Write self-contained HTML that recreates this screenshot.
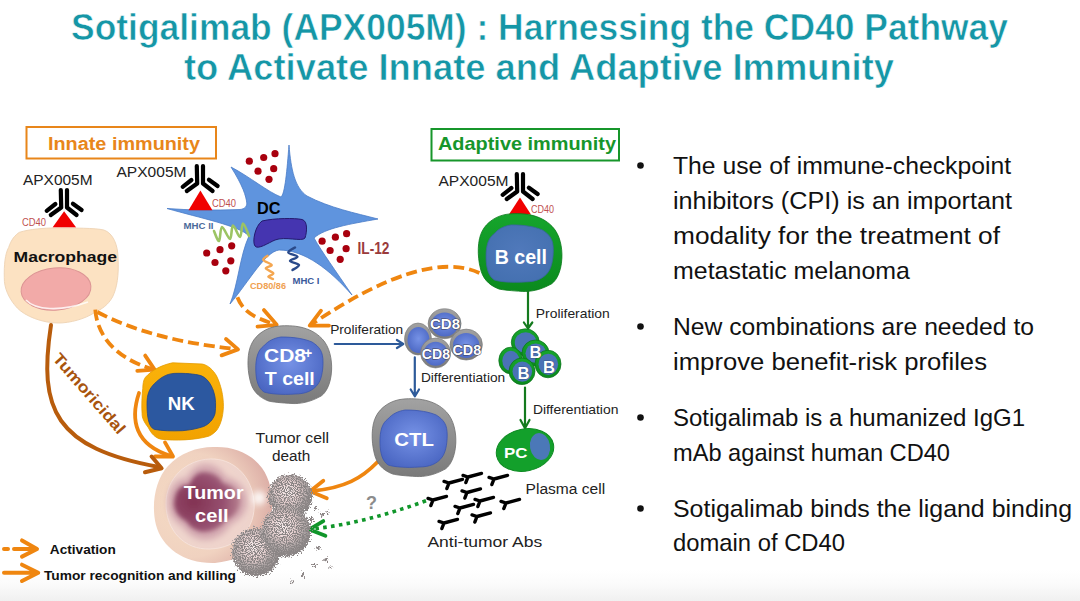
<!DOCTYPE html>
<html><head><meta charset="utf-8">
<style>
html,body{margin:0;padding:0;background:#fff;}
body{width:1080px;height:601px;overflow:hidden;position:relative;}
svg{position:absolute;left:0;top:0;}
text{font-family:"Liberation Sans",sans-serif;}
</style></head><body>
<svg width="1080" height="601" viewBox="0 0 1080 601">
<defs>
  <linearGradient id="botg" x1="0" y1="0" x2="0" y2="1">
    <stop offset="0" stop-color="#ffffff"/>
    <stop offset="0.45" stop-color="#fbfbfb"/>
    <stop offset="1" stop-color="#f0f0f0"/>
  </linearGradient>
  <radialGradient id="blueT" cx="0.5" cy="0.45" r="0.6">
    <stop offset="0" stop-color="#7692e6"/>
    <stop offset="1" stop-color="#4a66c2"/>
  </radialGradient>
  <radialGradient id="tumO" cx="0.3" cy="0.5" r="0.75">
    <stop offset="0" stop-color="#f6dcc4"/>
    <stop offset="0.6" stop-color="#f0d2c0"/>
    <stop offset="1" stop-color="#d9a8a2"/>
  </radialGradient>
  <radialGradient id="tumN" cx="0.3" cy="0.5" r="0.75">
    <stop offset="0" stop-color="#823252"/>
    <stop offset="0.6" stop-color="#965070"/>
    <stop offset="1" stop-color="#bc8894"/>
  </radialGradient>
  <radialGradient id="deb" cx="0.45" cy="0.4" r="0.55">
    <stop offset="0" stop-color="#faf0f0"/>
    <stop offset="0.45" stop-color="#e6d0d0"/>
    <stop offset="0.8" stop-color="#aaa2a2"/>
    <stop offset="1" stop-color="#8e8888"/>
  </radialGradient>
  <filter id="blur2" x="-30%" y="-30%" width="160%" height="160%"><feGaussianBlur stdDeviation="2.2"/></filter>
  <filter id="blur3" x="-100%" y="-100%" width="300%" height="300%"><feGaussianBlur stdDeviation="3"/></filter>
  <filter id="speck" x="-30%" y="-30%" width="160%" height="160%">
    <feTurbulence type="fractalNoise" baseFrequency="0.7" numOctaves="2" seed="7" result="n"/>
    <feDisplacementMap in="SourceGraphic" in2="n" scale="9" xChannelSelector="R" yChannelSelector="G" result="d"/>
    <feTurbulence type="fractalNoise" baseFrequency="0.9" numOctaves="1" seed="3" result="n2"/>
    <feColorMatrix in="n2" type="matrix" values="0 0 0 0 0.25  0 0 0 0 0.23  0 0 0 0 0.23  0 0 0 7 -2.9" result="sp"/>
    <feComposite in="sp" in2="d" operator="in" result="sp2"/>
    <feMerge><feMergeNode in="d"/><feMergeNode in="sp2"/></feMerge>
  </filter>
  <path id="cellO" d="M279.5,326 C292,325 310,326 322,338.7 C330,347 332,360 331.6,370 C331,385 325,395 319,397.1 C310,402 300,404 292,403.5 C282,403 272,402 268.4,401 C258,397 252,390 250,380 C247,368 247,352 252,343 C256,335 266,327 279.5,326 Z"/>
  <path id="cellI" d="M281,337 C295,337 305,339 312,342 C320,347 323,352 323,362 C323,372 321,380 318,384 C313,391 305,394 295,394 C282,395 270,394 264,392 C258,388 256,380 255.8,370 C255.5,358 258,350 263.7,346 C268,341 274,338 281,337 Z"/>
  <linearGradient id="grayR" x1="0" y1="0" x2="0" y2="1">
    <stop offset="0" stop-color="#a2a2a2"/><stop offset="1" stop-color="#7a7a7a"/>
  </linearGradient>
  <linearGradient id="greenR" x1="0" y1="0" x2="0" y2="1">
    <stop offset="0" stop-color="#16a52c"/><stop offset="1" stop-color="#0b8a1e"/>
  </linearGradient>
  <linearGradient id="amberR" x1="0" y1="0" x2="0" y2="1">
    <stop offset="0" stop-color="#fab20a"/><stop offset="1" stop-color="#f2a200"/>
  </linearGradient>
  <radialGradient id="blueB" cx="0.5" cy="0.45" r="0.6">
    <stop offset="0" stop-color="#5079bb"/><stop offset="1" stop-color="#4470b0"/>
  </radialGradient>
  <g id="ab">
    <path d="M-3.2,0 L-2.8,17.5 L-13.2,25 M3,0 L3,17.5 L12.6,25 M-8.6,14 L-17.3,20.8 M8.9,13.7 L17.6,20" stroke="#000" stroke-width="4.2" stroke-linecap="round" stroke-linejoin="round" fill="none"/>
  </g>
  <g id="sab">
    <path d="M0,0 L13.5,-3.6 M0,0 L-5,-1.6 M0,0 L-2.2,5.6" stroke="#000" stroke-width="3.4" stroke-linecap="round" fill="none"/>
  </g>
</defs>

<!-- bottom gradient -->
<rect x="0" y="570" width="1080" height="31" fill="url(#botg)"/>

<!-- TITLE -->
<g fill="#1596a6" font-weight="bold" font-size="37" stroke="#fff" stroke-width="0.6">
  <text x="71" y="40" textLength="937" lengthAdjust="spacingAndGlyphs">Sotigalimab (APX005M) : Harnessing the CD40 Pathway</text>
  <text x="184" y="79.5" textLength="710" lengthAdjust="spacingAndGlyphs">to Activate Innate and Adaptive Immunity</text>
</g>

<!-- BULLETS -->
<g fill="#111" font-size="24.6">
  <circle cx="640.5" cy="165.5" r="3.3"/>
  <circle cx="640.5" cy="326.5" r="3.3"/>
  <circle cx="640.5" cy="417.5" r="3.3"/>
  <circle cx="640.5" cy="508.5" r="3.3"/>
  <text x="673" y="174.2" textLength="338" lengthAdjust="spacingAndGlyphs">The use of immune-checkpoint</text>
  <text x="673" y="209.2" textLength="339" lengthAdjust="spacingAndGlyphs">inhibitors (CPI) is an important</text>
  <text x="673" y="244.2" textLength="327" lengthAdjust="spacingAndGlyphs">modality for the treatment of</text>
  <text x="673" y="278.5" textLength="237" lengthAdjust="spacingAndGlyphs">metastatic melanoma</text>
  <text x="673" y="335" textLength="361" lengthAdjust="spacingAndGlyphs">New combinations are needed to</text>
  <text x="673" y="370" textLength="314" lengthAdjust="spacingAndGlyphs">improve benefit-risk profiles</text>
  <text x="673" y="425.7" textLength="352" lengthAdjust="spacingAndGlyphs">Sotigalimab is a humanized IgG1</text>
  <text x="673" y="460.5" textLength="277" lengthAdjust="spacingAndGlyphs">mAb against human CD40</text>
  <text x="673" y="517" textLength="399" lengthAdjust="spacingAndGlyphs">Sotigalimab binds the ligand binding</text>
  <text x="673" y="551" textLength="172" lengthAdjust="spacingAndGlyphs">domain of CD40</text>
</g>

<!-- DIAGRAM -->
<g id="diagram">
  <!-- boxes -->
  <rect x="26.5" y="127" width="189.5" height="31.5" fill="none" stroke="#e8861a" stroke-width="2"/>
  <text x="48" y="149.5" font-size="18" font-weight="bold" fill="#e8861a" textLength="152" lengthAdjust="spacingAndGlyphs">Innate immunity</text>
  <rect x="431.5" y="129" width="187.5" height="31.5" fill="none" stroke="#17962b" stroke-width="2"/>
  <text x="438" y="149.6" font-size="19" font-weight="bold" fill="#17962b" textLength="178" lengthAdjust="spacingAndGlyphs">Adaptive immunity</text>

  <!-- APX labels -->
  <g font-size="15" fill="#222">
    <text x="23" y="185" textLength="69.5" lengthAdjust="spacingAndGlyphs">APX005M</text>
    <text x="116.5" y="176.6" textLength="70" lengthAdjust="spacingAndGlyphs">APX005M</text>
    <text x="438.5" y="186.3" textLength="70" lengthAdjust="spacingAndGlyphs">APX005M</text>
  </g>

  <!-- DC star -->
  <path d="M167,208.5 Q200,211 240,209.5 C245,209 247,206 246.8,203 C246,196 243,186 231,167 C250,177 268,192 281,197 C285,194 287,170 289,145 C291,170 295,188 307,196 C330,208 355,213 378,219 C350,224 325,228 314,238 C322,252 335,270 352,295 C330,270 305,250 279,250 C265,252 250,280 230,304 C238,285 240,255 249,236 C240,226 200,218 167,208.5 Z" fill="#5f94de" stroke="#4a7cc8" stroke-width="0.8"/>
  <path d="M262,221 C275,218 295,218 302,219.5 C308,221 307,232 305,238 C302,242 285,236 275,240 C268,243 258,250 255,246 C252,242 255,226 262,221 Z" fill="#4535b0" stroke="#241a6e" stroke-width="1"/>
  <text x="257" y="213.5" font-size="16" font-weight="bold" fill="#000" textLength="23.5" lengthAdjust="spacingAndGlyphs">DC</text>
  <!-- squiggles -->
  <path d="M214,231 C214.8,232.7 217.7,241.7 219,241 C220.3,240.3 220.2,227.3 222,227 C223.8,226.7 228.2,239.2 230,239 C231.8,238.8 231.3,225.8 233,225.5 C234.7,225.2 238.3,237.3 240,237 C241.7,236.7 241.5,223.7 243,223.5 C244.5,223.3 248.0,233.9 249,236" fill="none" stroke="#9cc464" stroke-width="2.6" stroke-linejoin="round" stroke-linecap="round"/>
  <path d="M267.5,255.8 C266.8,256.5 262.6,258.5 263.3,260 C264.0,261.5 271.3,263.6 271.7,265 C272.1,266.4 265.5,266.9 265.8,268.3 C266.1,269.7 272.9,271.9 273.3,273.3 C273.7,274.7 268.4,275.8 268.3,276.7 C268.2,277.6 272.2,278.6 273,279" fill="none" stroke="#f4a650" stroke-width="2.4" stroke-linejoin="round" stroke-linecap="round"/>
  <path d="M295,247.5 C293.9,248.3 287.9,251.0 288.3,252.5 C288.7,254.0 297.2,255.3 297.5,256.7 C297.8,258.1 289.8,259.4 290,260.8 C290.2,262.2 298.6,263.5 299,265 C299.4,266.5 293.6,269.2 292.5,270" fill="none" stroke="#2a4a8a" stroke-width="2.4" stroke-linejoin="round" stroke-linecap="round"/>
  <g font-weight="bold">
    <text x="183.5" y="229.4" font-size="9.5" fill="#4a6a9a" textLength="30" lengthAdjust="spacingAndGlyphs">MHC II</text>
    <text x="250" y="288.7" font-size="8.5" fill="#f0a050" textLength="36" lengthAdjust="spacingAndGlyphs">CD80/86</text>
    <text x="292.5" y="284.2" font-size="9" fill="#3a5a9a" textLength="27" lengthAdjust="spacingAndGlyphs">MHC I</text>
    <text x="357.5" y="253.8" font-size="16" fill="#9b3b3b" textLength="32" lengthAdjust="spacingAndGlyphs">IL-12</text>
  </g>
  <!-- dots -->
  <g fill="#a8000e">
    <circle cx="249.3" cy="161.2" r="3.6"/><circle cx="263.7" cy="157.5" r="3.6"/><circle cx="275" cy="153.7" r="3.6"/>
    <circle cx="258" cy="171.2" r="3.6"/><circle cx="273.7" cy="168.7" r="3.6"/><circle cx="269" cy="179.3" r="3.6"/>
    <circle cx="206.7" cy="253" r="3.6"/><circle cx="220" cy="249.7" r="3.6"/><circle cx="231.7" cy="245.8" r="3.6"/>
    <circle cx="215" cy="262.5" r="3.6"/><circle cx="230.8" cy="260.8" r="3.6"/><circle cx="225.8" cy="270.8" r="3.6"/>
    <circle cx="322.1" cy="241.2" r="3.6"/><circle cx="335.4" cy="237.2" r="3.6"/><circle cx="346.6" cy="233.7" r="3.6"/>
    <circle cx="330.1" cy="250.5" r="3.6"/><circle cx="346.1" cy="248.7" r="3.6"/><circle cx="340.2" cy="259.3" r="3.6"/>
  </g>

  <!-- antibodies + CD40 -->
  <use href="#ab" x="64" y="190"/>
  <use href="#ab" x="200" y="166"/>
  <use href="#ab" x="520" y="174"/>
  <g fill="#f00000">
    <polygon points="64.1,211.2 52.5,227.6 76.2,227.6"/>
    <polygon points="200.4,190.5 188.5,210.2 212.4,210.2"/>
    <polygon points="520,197.4 508.9,214.6 531,214.6"/>
  </g>
  <g font-size="10" fill="#c05050">
    <text x="22" y="226" textLength="24" lengthAdjust="spacingAndGlyphs">CD40</text>
    <text x="212" y="206.5" textLength="24" lengthAdjust="spacingAndGlyphs">CD40</text>
    <text x="531" y="213" textLength="23" lengthAdjust="spacingAndGlyphs">CD40</text>
  </g>

  <!-- Macrophage -->
  <path d="M19.5,232.3 C30,229 45,228 54,228 C75,228 95,228 103.8,230 C113,233 118,245 118,258 C119,275 117,288 112.5,297 C108,305 102,309 95,312.3 C85,319 70,323 58.4,323 C42,323 25,316 17.3,308 C9,299 4,288 4.3,277.7 C4,265 5,254 8.7,247.4 C11,240 15,235 19.5,232.3 Z" fill="#fce2c2" stroke="#f0d6b8" stroke-width="1"/>
  <ellipse cx="56" cy="289" rx="35" ry="21" transform="rotate(-5 56 289)" fill="#f2aaa8" stroke="#dc9494" stroke-width="1"/>
  <path d="M26,300 C35,310 60,312 88,302" fill="none" stroke="#fff" stroke-width="1.6" opacity="0.8"/>
  <text x="13.5" y="261.5" font-size="15" font-weight="bold" fill="#111" textLength="103.5" lengthAdjust="spacingAndGlyphs">Macrophage</text>

  <!-- ARROWS (orange) -->
  <g fill="none" stroke="#ef8610" stroke-width="3.8" stroke-linecap="butt">
    <path d="M95.3,309.6 C97,335 115,358 152,369" stroke-dasharray="11,5"/>
    <path d="M97.3,312 Q150,340 236,349" stroke-dasharray="11,5"/>
    <path d="M237.4,297.3 C243,312 255,318 274,324" stroke-dasharray="11,5"/>
    <path d="M479.4,272.9 Q425,248 312,324" stroke-dasharray="11,5"/>
  </g>
  <g fill="none" stroke="#ef8610" stroke-width="3.8" stroke-linecap="round" stroke-linejoin="round">
    <path d="M145.2,355.6 L154.6,369.6 L137.3,370.9"/>
    <path d="M226,339 L238,349.4 L221.6,355.4"/>
    <path d="M263.9,310.1 L276.7,324.8 L257.5,326.6"/>
    <path d="M321,310.7 L309.7,325.6 L329,325.6"/>
    <path d="M139,393 C130,420 135,445 171,456"/>
    <path d="M165,442.4 L173,456.5 L155,456.5"/>
    <path d="M377.5,462 C362,478 345,488 312,491"/>
    <path d="M323.3,480.8 L310.1,491.3 L326.8,498.2"/>
  </g>
  <!-- tumoricidal -->
  <g fill="none" stroke="#b85c0c" stroke-width="4" stroke-linecap="round" stroke-linejoin="round">
    <path d="M51,325 C38,410 55,448 159,467"/>
    <path d="M151.6,456.5 L161.6,468.2 L145,472.3"/>
  </g>
  <text transform="translate(52,359) rotate(49)" font-size="16" font-weight="bold" fill="#a8540e" textLength="101" lengthAdjust="spacingAndGlyphs">Tumoricidal</text>

  <!-- NK -->
  <path d="M172.5,362.8 L202,364 C208,365 213,370 216.4,375.6 C221,385 223.5,396 223.4,406.7 C223,418 220,426 216.4,430.7 C213,434 210,436 207.9,436.4 C195,440 175,441 161.2,439.2 C155,438 151,433 148.5,427.9 C144,422 142,418 142.1,413.7 C141.5,405 142,395 142.8,388.3 C143,382 144,379 145.7,377 C152,370 162,365 172.5,362.8 Z" fill="url(#amberR)" stroke="#e39a00" stroke-width="0.8"/>
  <path d="M154.1,384 C160,378 166,374 174,373.4 C185,373 195,374 200.8,375.6 C207,378 211,384 213.5,391.1 C216,398 216,407 215,413.7 C213,420 209,424 203.6,426.5 C196,429 190,430 182.4,430.7 C172,431 162,431 154.1,429.3 C149,427 147,418 147,403.8 C147,395 149,389 154.1,384 Z" fill="#2c58a0" stroke="#1f4585" stroke-width="0.8"/>
  <text x="167.7" y="410.1" font-size="19" font-weight="bold" fill="#fff" textLength="27" lengthAdjust="spacingAndGlyphs">NK</text>

  <!-- CD8 T cell -->
  <use href="#cellO" fill="url(#grayR)" stroke="#6e6e6e" stroke-width="0.8"/>
  <use href="#cellI" fill="url(#blueT)" stroke="#3a55b0" stroke-width="0.8"/>
  <g font-weight="bold" fill="#fff" font-size="19">
    <text x="264" y="362" textLength="42" lengthAdjust="spacingAndGlyphs">CD8</text>
    <text x="304" y="358" font-size="14">+</text>
    <text x="264.8" y="385" textLength="50" lengthAdjust="spacingAndGlyphs">T cell</text>
  </g>

  <!-- blue arrows -->
  <g fill="none" stroke="#2d5a9a" stroke-width="2.2" stroke-linecap="round" stroke-linejoin="round">
    <path d="M334.8,344 L402.5,344 M396.9,340 L403.3,344 L396.9,348"/>
    <path d="M414.8,357.4 L414.8,396 M410.7,389.5 L414.8,396.3 L419,389.5"/>
  </g>
  <g font-size="13" fill="#222">
    <text x="330.2" y="333.7" textLength="73" lengthAdjust="spacingAndGlyphs">Proliferation</text>
    <text x="420.9" y="382.4" textLength="84.3" lengthAdjust="spacingAndGlyphs">Differentiation</text>
    <text x="535.8" y="317.5" textLength="74" lengthAdjust="spacingAndGlyphs">Proliferation</text>
    <text x="532.9" y="414" textLength="85.5" lengthAdjust="spacingAndGlyphs">Differentiation</text>
  </g>

  <!-- CD8 cluster -->
  <g stroke="#777" stroke-width="0.6">
    <ellipse cx="418" cy="339" rx="13.5" ry="16" fill="url(#grayR)"/><ellipse cx="418.5" cy="340" rx="11" ry="13" fill="url(#blueT)" stroke="none"/>
    <ellipse cx="444.6" cy="323.7" rx="16.5" ry="15" fill="url(#grayR)"/><ellipse cx="444.6" cy="324.5" rx="13.5" ry="12" fill="url(#blueT)" stroke="none"/>
    <ellipse cx="466.2" cy="344.6" rx="16.2" ry="15.5" fill="url(#grayR)"/><ellipse cx="466.2" cy="345.4" rx="13.2" ry="12.5" fill="url(#blueT)" stroke="none"/>
    <ellipse cx="435.6" cy="353" rx="15" ry="15" fill="url(#grayR)"/><ellipse cx="435.6" cy="353.8" rx="12" ry="12" fill="url(#blueT)" stroke="none"/>
  </g>
  <g font-weight="bold" fill="#fff" font-size="14.5" stroke="#3a3a50" stroke-width="1" paint-order="stroke">
    <text x="430" y="329.3" textLength="30" lengthAdjust="spacingAndGlyphs">CD8</text>
    <text x="421.8" y="358.7" textLength="28.2" lengthAdjust="spacingAndGlyphs">CD8</text>
    <text x="452.4" y="355" textLength="28.8" lengthAdjust="spacingAndGlyphs">CD8</text>
  </g>

  <!-- CTL -->
  <g transform="translate(124.2,73)">
    <use href="#cellO" fill="url(#grayR)" stroke="#6e6e6e" stroke-width="0.8"/>
    <use href="#cellI" fill="url(#blueT)" stroke="#3a55b0" stroke-width="0.8"/>
  </g>
  <text x="394.3" y="446" font-size="19" font-weight="bold" fill="#fff" textLength="39.6" lengthAdjust="spacingAndGlyphs">CTL</text>

  <!-- B cell -->
  <g transform="translate(230.3,-112.1)">
    <use href="#cellO" fill="url(#greenR)" stroke="#0a7a1a" stroke-width="0.8"/>
    <use href="#cellI" fill="url(#blueB)" stroke="#3a64a0" stroke-width="0.8"/>
  </g>
  <text x="494.7" y="263.9" font-size="19.5" font-weight="bold" fill="#fff" textLength="52.3" lengthAdjust="spacingAndGlyphs">B cell</text>

  <!-- green arrows -->
  <g fill="none" stroke="#147a1e" stroke-width="2.2" stroke-linecap="round" stroke-linejoin="round">
    <path d="M528,291.6 L528,328 M523.9,322.5 L528,328.5 L532.3,322.5"/>
    <path d="M525,387.5 L525,428 M520.5,420 L525,428.2 L529.5,420"/>
  </g>

  <!-- B cluster -->
  <g stroke="#0a7018" stroke-width="0.7">
    <ellipse cx="525.3" cy="342.3" rx="14" ry="13.5" fill="url(#greenR)"/><ellipse cx="525.5999999999999" cy="342.6" rx="10.8" ry="10.3" fill="#4a72b6" stroke="none"/>
    <ellipse cx="510.6" cy="360.5" rx="11.8" ry="13.3" fill="url(#greenR)"/><ellipse cx="510.90000000000003" cy="360.8" rx="8.600000000000001" ry="10.100000000000001" fill="#4a72b6" stroke="none"/>
    <ellipse cx="535.5" cy="353" rx="13.5" ry="13" fill="url(#greenR)"/><ellipse cx="535.8" cy="353.3" rx="10.3" ry="9.8" fill="#4a72b6" stroke="none"/>
    <ellipse cx="548" cy="364" rx="13" ry="13.8" fill="url(#greenR)"/><ellipse cx="548.3" cy="364.3" rx="9.8" ry="10.600000000000001" fill="#4a72b6" stroke="none"/>
    <ellipse cx="522" cy="371.3" rx="13" ry="13.3" fill="url(#greenR)"/><ellipse cx="522.3" cy="371.6" rx="9.8" ry="10.100000000000001" fill="#4a72b6" stroke="none"/>
  </g>
  <g font-weight="bold" fill="#fff" font-size="17" stroke="#2a3a60" stroke-width="0.6" paint-order="stroke">
    <text x="529.5" y="357.5" textLength="12" lengthAdjust="spacingAndGlyphs">B</text>
    <text x="543" y="372.6" textLength="12" lengthAdjust="spacingAndGlyphs">B</text>
    <text x="517.6" y="379.1" textLength="12" lengthAdjust="spacingAndGlyphs">B</text>
  </g>

  <!-- PC -->
  <ellipse cx="525" cy="450" rx="29" ry="21" transform="rotate(-12 525 450)" fill="#13a02b" stroke="#0e8a22" stroke-width="1"/>
  <ellipse cx="540" cy="446.5" rx="10" ry="13.5" transform="rotate(-10 540 446.5)" fill="#4b78b8"/>
  <text x="504" y="458" font-size="15" font-weight="bold" fill="#fff" textLength="23.4" lengthAdjust="spacingAndGlyphs">PC</text>

  <!-- small antibodies -->
  <use href="#sab" x="449" y="483"/><use href="#sab" x="468" y="477"/><use href="#sab" x="494" y="479"/>
  <use href="#sab" x="467" y="492.5"/><use href="#sab" x="433" y="500"/><use href="#sab" x="480" y="501"/>
  <use href="#sab" x="506" y="503"/><use href="#sab" x="460" y="508"/><use href="#sab" x="477" y="516.5"/>
  <use href="#sab" x="444" y="523"/>
  <g font-size="14" fill="#222">
    <text x="525.6" y="494.3" textLength="79.6" lengthAdjust="spacingAndGlyphs">Plasma  cell</text>
    <text x="427.4" y="546.7" textLength="114.8" lengthAdjust="spacingAndGlyphs">Anti-tumor Abs</text>
    <text x="255.6" y="443.1" textLength="73.4" lengthAdjust="spacingAndGlyphs">Tumor  cell</text>
    <text x="272" y="461" textLength="38.4" lengthAdjust="spacingAndGlyphs">death</text>
  </g>
  <text x="366" y="508.6" font-size="18" font-weight="bold" fill="#8c8c8c" textLength="11" lengthAdjust="spacingAndGlyphs">?</text>

  <!-- green dotted -->
  <path d="M426,500.8 Q365,523 314,528.8" fill="none" stroke="#10962a" stroke-width="3.6" stroke-dasharray="3.6,4.3"/>
  <path d="M323.3,521.1 L309.4,529.4 L325.4,535.7" fill="none" stroke="#10962a" stroke-width="3.8" stroke-linecap="round" stroke-linejoin="round"/>

  <!-- Tumor cell -->
  <path d="M213,447 C232,446 250,452 262,468 C272,482 273,500 272,512 C270,535 252,560 215,563 C185,564 162,548 156,525 C151,505 155,480 168,466 C180,453 197,447 213,447 Z" fill="url(#tumO)"/>
  <path d="M210,459 C232,458 252,475 254,502 C256,528 238,548 210,549 C184,550 166,530 166,504 C166,478 186,460 210,459 Z" fill="#efd5cf" stroke="#f6e4de" stroke-width="1" opacity="0.85"/>
  <path d="M168,503 C168,486 177,478 187,478 C191,469 198,464 205,464 C215,464 222,470 226,477 C238,480 247,489 247,501 C247,512 240,520 231,524 C225,534 215,540 205,540 C195,540 187,533 183,527 C174,522 168,513 168,503 Z" fill="#d3a8b0" filter="url(#blur3)"/>
  <path d="M174,503 C175,490 181,484 189,485 C193,476 198,472 204,472 C213,472 219,476 223,483 C233,485 240,492 240,501 C240,510 234,517 226,520 C221,528 212,532 204,532 C196,532 189,526 186,521 C179,518 174,511 174,503 Z" fill="url(#tumN)" filter="url(#blur2)"/>
  <circle cx="259" cy="498" r="7" fill="#fff" opacity="0.85" filter="url(#blur3)"/>
  <g font-weight="bold" fill="#fff" font-size="19">
    <text x="183.7" y="498.7" textLength="59.9" lengthAdjust="spacingAndGlyphs">Tumor</text>
    <text x="195" y="522" textLength="33.6" lengthAdjust="spacingAndGlyphs">cell</text>
  </g>

  <!-- debris -->
  <g filter="url(#speck)">
    <circle cx="290.3" cy="496" r="22" fill="url(#deb)"/>
    <circle cx="256" cy="552" r="24" fill="url(#deb)"/>
    <circle cx="286" cy="531.5" r="25" fill="url(#deb)"/>
    <g fill="#8a8080">
      <circle cx="316" cy="508" r="2"/><circle cx="322" cy="515" r="1.8"/><circle cx="311" cy="519" r="2"/>
      <circle cx="318" cy="548" r="2"/><circle cx="326" cy="560" r="1.8"/><circle cx="314" cy="565" r="2"/>
      <circle cx="303" cy="575" r="2"/><circle cx="292" cy="582" r="1.6"/><circle cx="331" cy="567" r="1.5"/>
      <circle cx="328" cy="512" r="1.5"/>
    </g>
  </g>
  <!-- legend -->
  <g fill="none" stroke="#ef8610" stroke-width="4" stroke-linecap="round" stroke-linejoin="round">
    <path d="M4,549 L8,549 M14,549 L35,549"/>
    <path d="M22,540.4 L37,549 L22,556.6"/>
    <path d="M4,572.8 L36,572.8 M22,564.7 L38.2,572.8 L22,581"/>
  </g>
  <g font-size="13.5" font-weight="bold" fill="#111">
    <text x="49.8" y="554.3" textLength="66" lengthAdjust="spacingAndGlyphs">Activation</text>
    <text x="44" y="579.8" textLength="192" lengthAdjust="spacingAndGlyphs">Tumor recognition and killing</text>
  </g>
</g>
</svg>
</body></html>
